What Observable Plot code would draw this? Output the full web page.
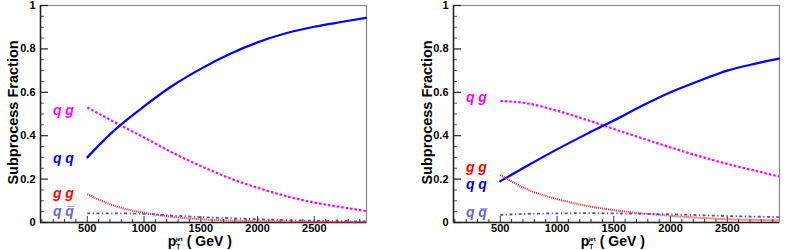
<!DOCTYPE html>
<html>
<head>
<meta charset="utf-8">
<script src="https://cdn.jsdelivr.net/npm/d3@7"></script>
<script src="https://cdn.jsdelivr.net/npm/@observablehq/plot@0.6"></script>
<style>
  html, body { margin: 0; padding: 0; background: #fff; }
  #wrap { position: relative; width: 790px; height: 250px; overflow: hidden; }
  #left { position: absolute; left: 0; top: 0; }
  #right { position: absolute; left: 395px; top: 0; }
</style>
</head>
<body>
<div id="wrap"><div id="left"></div><div id="right"></div></div>
<script>
// ---- data ----
const ptValues = [500, 750, 1000, 1250, 1500, 1750, 2000, 2250, 2500, 2750, 2955];

// left panel
const leftQQ    = [0.300, 0.430, 0.535, 0.630, 0.708, 0.775, 0.830, 0.872, 0.902, 0.925, 0.943];
const leftQG    = [0.530, 0.460, 0.392, 0.322, 0.260, 0.205, 0.160, 0.122, 0.092, 0.070, 0.053];
const leftGG    = [0.130, 0.075, 0.045, 0.026, 0.015, 0.009, 0.006, 0.004, 0.003, 0.002, 0.002];
const leftQQbar = [0.042, 0.042, 0.040, 0.032, 0.025, 0.020, 0.015, 0.011, 0.008, 0.006, 0.005];

// right panel
const rightQQ    = [0.190, 0.265, 0.337, 0.405, 0.470, 0.538, 0.600, 0.652, 0.700, 0.732, 0.755];
const rightQG    = [0.560, 0.548, 0.515, 0.475, 0.431, 0.388, 0.346, 0.306, 0.270, 0.238, 0.212];
const rightGG    = [0.220, 0.150, 0.108, 0.078, 0.057, 0.042, 0.031, 0.022, 0.015, 0.012, 0.010];
const rightQQbar = [0.035, 0.040, 0.042, 0.043, 0.042, 0.040, 0.038, 0.034, 0.030, 0.027, 0.025];

const processLabels = ["q g", "q q", "g g", "q q\u0305"];
const processKeys = ["qg", "qq", "gg", "qqbar"];
const xTickLabels = [500, 1000, 1500, 2000, 2500];
const yTickLabels = [0, 0.2, 0.4, 0.6, 0.8, 1];
const xDomain = [88, 2960];
const labelPt = 290;

// ---- styles ----
const styles = {
  qq:    {stroke: "#0000ff", strokeWidth: 2.2},
  qg:    {stroke: "#ff00ff", strokeWidth: 2.2, strokeDasharray: "2.5 2", strokeLinecap: "butt"},
  gg:    {stroke: "#ff2020", strokeWidth: 2, strokeDasharray: "1 1", strokeLinecap: "butt"},
  qqbar: {stroke: "#4a4af0", strokeWidth: 1.8, strokeDasharray: "3 2.5 1.2 2.5", strokeLinecap: "butt"}
};
const labelColors = {qq: "#0000ff", qg: "#ff00ff", gg: "#ff0000", qqbar: "#6666dd"};
const FONT = "'Liberation Sans', Arial, Helvetica, sans-serif";

function buildRows(series) {
  const rows = [];
  for (const k of processKeys) {
    series[k].forEach((v, i) => rows.push({key: k, pt: ptValues[i], f: v}));
  }
  return rows;
}

function makePanel(series, opts) {
  const rows = buildRows(series);
  const W = opts.width, H = 250;
  const mL = opts.marginLeft, mR = opts.marginRight, mT = 5, mB = 28;
  const innerW = W - mL - mR, innerH = H - mT - mB;
  const majorX = xTickLabels;
  const minorX = d3.range(100, 2960, 100).filter(v => !majorX.includes(v));
  const majorY = yTickLabels;
  const minorY = d3.range(0.05, 1, 0.05).map(v => +v.toFixed(2)).filter(v => !majorY.some(m => Math.abs(m - v) < 1e-6));

  const labels = processKeys.map((k, i) => ({
    key: k, text: processLabels[i], f: series[k][0], dy: (opts.labelDy[k] || 0)
  }));

  const marks = [
    Plot.frame({stroke: "#888", strokeWidth: 1.2}),
    Plot.tickX(minorX, {x: d => d, stroke: "#333", strokeWidth: 1, insetTop: innerH - 3}),
    Plot.tickX(majorX, {x: d => d, stroke: "#333", strokeWidth: 1, insetTop: innerH - 6}),
    Plot.tickY(minorY, {y: d => d, stroke: "#555", strokeWidth: 1, insetRight: innerW - 4}),
    Plot.tickY(majorY, {y: d => d, stroke: "#222", strokeWidth: 1.2, insetRight: innerW - 8}),
    Plot.ruleY([0], {stroke: "#222", strokeWidth: 1.5}),
    Plot.ruleX([xDomain[0]], {stroke: "#222", strokeWidth: 1.5}),
    ...processKeys.map(k => Plot.line(rows.filter(r => r.key === k), {x: "pt", y: "f", curve: "monotone-x", ...styles[k]})),
    ...labels.map(l => Plot.text([l], {
      x: () => labelPt, y: "f", text: "text", dy: l.dy,
      fill: labelColors[l.key], fontSize: 14, fontWeight: "bold", fontStyle: "italic",
      fontFamily: FONT, textAnchor: "middle"
    })),
    Plot.axisX(majorX, {tickSize: 0, tickPadding: 2, fontSize: 11, fontWeight: "bold", fontFamily: FONT, tickFormat: d => String(d), label: null}),
    Plot.axisY(majorY, {tickSize: 0, tickPadding: 5, fontSize: 11, fontWeight: "bold", fontFamily: FONT, tickFormat: d => String(d), label: null})
  ];

  const p = Plot.plot({
    width: W, height: H,
    marginLeft: mL, marginRight: mR, marginTop: mT, marginBottom: mB,
    x: {domain: xDomain},
    y: {domain: [0, 1]},
    style: {fontFamily: FONT, background: "white", overflow: "visible"},
    marks
  });

  const svg = d3.select(p);
  // y-axis label
  svg.append("text")
    .attr("transform", `translate(${opts.yLabelX},${mT + innerH / 2 - 1}) rotate(-90)`)
    .attr("text-anchor", "middle")
    .attr("dominant-baseline", "central")
    .attr("font-family", FONT).attr("font-weight", "bold").attr("font-size", 14.5)
    .text("Subprocess Fraction");
  // x-axis label: p_T^jet ( GeV )
  const cx = mL + innerW * 0.49;
  const t = svg.append("text")
    .attr("x", cx).attr("y", 246)
    .attr("text-anchor", "middle")
    .attr("font-family", FONT).attr("font-weight", "bold").attr("font-size", 14);
  t.append("tspan").text("p");
  t.append("tspan").attr("font-size", 6.5).attr("dy", 3).text("T");
  t.append("tspan").attr("font-size", 6).attr("dx", -4.5).attr("dy", -8).text("jet");
  t.append("tspan").attr("dy", 5).attr("dx", 4).text("( GeV )");
  return p;
}

document.getElementById("left").appendChild(makePanel(
  {qq: leftQQ, qg: leftQG, gg: leftGG, qqbar: leftQQbar},
  {width: 370, marginLeft: 40, marginRight: 4, yLabelX: 13, labelDy: {qg: 3, qq: 1, gg: -1, qqbar: -2}}
));
document.getElementById("right").appendChild(makePanel(
  {qq: rightQQ, qg: rightQG, gg: rightGG, qqbar: rightQQbar},
  {width: 395, marginLeft: 58, marginRight: 11, yLabelX: 32, labelDy: {qg: -3, qq: 3, gg: -7, qqbar: -2}}
));
</script>
</body>
</html>
